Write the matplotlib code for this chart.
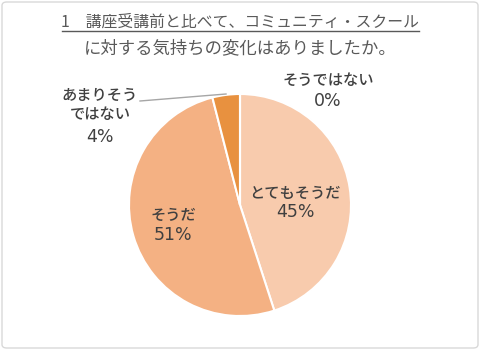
import matplotlib
matplotlib.use("Agg")
import matplotlib.pyplot as plt
from matplotlib.patches import FancyBboxPatch

plt.rcParams['font.family'] = ['Noto Sans CJK JP', 'DejaVu Sans']

categories = ["とてもそうだ", "そうだ", "あまりそう\nではない", "そうではない"]
values = [45, 51, 4, 0]
colors = ["#F8CBAD", "#F4B183", "#E8913F", "#F2D0B4"]
title1 = "1　講座受講前と比べて、コミュニティ・スクール"
title2 = "に対する気持ちの変化はありましたか。"

W, H = 480, 350
fig = plt.figure(figsize=(W/100, H/100), dpi=100)
fig.patch.set_facecolor("white")
fig.patches.append(FancyBboxPatch((2/W, 2/H), 1-4/W, 1-4/H,
                                  boxstyle="round,pad=0,rounding_size=0.01",
                                  transform=fig.transFigure, facecolor="none",
                                  edgecolor="#D9D9D9", linewidth=1.0, zorder=-1))

cx, cy, r = 240, 205, 111
ax = fig.add_axes([(cx-r)/W, (H-cy-r)/H, 2*r/W, 2*r/H])
ax.pie(values, colors=colors, startangle=90, counterclock=False, radius=1,
       wedgeprops=dict(edgecolor="white", linewidth=1.5))
ax.set_xlim(-1, 1); ax.set_ylim(-1, 1); ax.set_aspect('equal'); ax.axis('off')

txt = "#404040"
def px(x, y):
    return ((x-cx)/r, (cy-y)/r)

total = sum(values)
pcts = [f"{round(v*100/total)}%" for v in values]
ckw = dict(ha='center', va='center', fontsize=11, color=txt, linespacing=1.2,
           fontweight='medium', clip_on=False)
pkw = dict(ha='center', va='center', fontsize=12.5, color=txt,
           family=['DejaVu Sans'], clip_on=False)
# (category centre x, category centre y, percent centre y)
lab_pos = [(295, 193, 212), (173, 215, 235), (100, 105, 137), (328, 80, 101)]
for cat, pct, (lx, ly, py) in zip(categories, pcts, lab_pos):
    ax.text(*px(lx, ly), cat, **ckw)
    ax.text(*px(lx, py), pct, **pkw)
ax.plot(*zip(px(140, 101), px(226, 94)), color="#A6A6A6", lw=1, clip_on=False)

fig.text(0.5, 1-22/H, title1, ha='center', va='center', fontsize=11.4, color="#595959")
fig.add_artist(plt.Line2D([62/W, 419/W], [1-31/H, 1-31/H], color="#595959", lw=1))
fig.text(0.5, 1-48/H, title2, ha='center', va='center', fontsize=12.5, color="#595959")

fig.savefig("out.png", dpi=100)
